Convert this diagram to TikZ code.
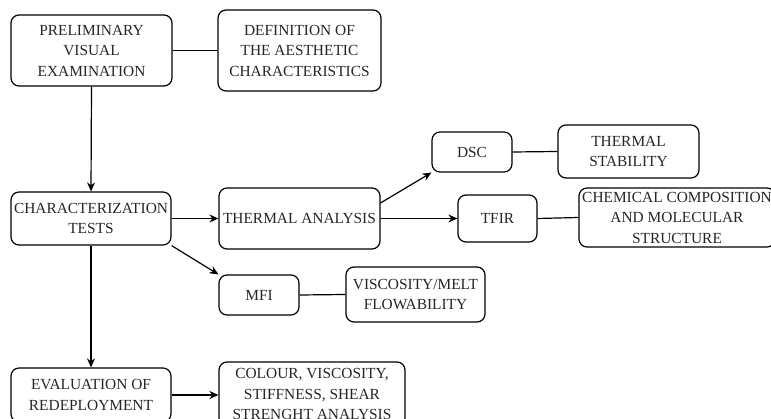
\documentclass[tikz,border=0pt]{standalone}
\usepackage{fontspec}
\setmainfont{Liberation Serif}
\usetikzlibrary{arrows.meta,calc}

\tikzset{
  box/.style={draw, line width=1.2pt, rounded corners=8pt, inner sep=0pt,
    align=center, text=black!85, font=\fontsize{15.4}{20.5}\selectfont},
  link/.style={line width=1.2pt},
  arr/.style={line width=1.2pt, -{Stealth[length=9pt,width=8pt]}}
}

\begin{document}
\begin{tikzpicture}[x=1pt,y=-1pt]
  \useasboundingbox (0,0) rectangle (771,419);
  \clip (0,0) rectangle (771,419);

  % left column
  \node[box, minimum width=161pt, minimum height=71pt] (pve) at (91.5,50.5)
    {PRELIMINARY\\VISUAL\\EXAMINATION};
  \node[box, minimum width=163pt, minimum height=81pt] (def) at (299.5,50.5)
    {DEFINITION OF\\THE AESTHETIC\\CHARACTERISTICS};
  \node[box, minimum width=160pt, minimum height=53pt] (ct) at (91,218.5)
    {CHARACTERIZATION\\TESTS};
  \node[box, minimum width=160pt, minimum height=54pt] (ev) at (91,395)
    {EVALUATION OF\\REDEPLOYMENT};

  % analyses
  \node[box, minimum width=161pt, minimum height=61pt] (ta) at (299.5,218.5)
    {THERMAL ANALYSIS};
  \node[box, minimum width=80pt, minimum height=40pt] (dsc) at (472,152) {DSC};
  \node[box, minimum width=141pt, minimum height=53pt] (ts) at (628.5,151.5)
    {THERMAL\\STABILITY};
  \node[box, minimum width=79pt, minimum height=47pt] (tfir) at (497.5,218.5) {TFIR};
  \node[box, minimum width=196pt, minimum height=59pt] (chem) at (677,217.5)
    {CHEMICAL COMPOSITION\\AND MOLECULAR\\STRUCTURE};
  \node[box, minimum width=80pt, minimum height=40pt] (mfi) at (259,295) {MFI};
  \node[box, minimum width=139pt, minimum height=55pt] (vm) at (415.5,294.5)
    {VISCOSITY/MELT\\FLOWABILITY};
  \node[box, minimum width=186pt, minimum height=64pt] (col) at (312,394)
    {COLOUR, VISCOSITY,\\STIFFNESS, SHEAR\\STRENGHT ANALYSIS};

  % connectors
  \draw[link] (pve.east) -- (def.west);
  \draw[arr] (pve.south) -- (ct.north);
  \draw[arr] (ct.east) -- (ta.west);
  \coordinate (taout) at ($(ta.north east)!0.25!(ta.south east)$);
  \draw[arr] (taout) -- (dsc.south west);
  \draw[arr] (ta.east) -- (tfir.west);
  \draw[link] (dsc.east) -- (ts.west);
  \draw[link] (tfir.east) -- (chem.west);
  \draw[arr] (ct.south east) -- (mfi.north west);
  \draw[link] (mfi.east) -- (vm.west);
  \draw[arr] (ct.south) -- (ev.north);
  \draw[arr] (ev.east) -- ($(col.west)+(0,1)$);
\end{tikzpicture}
\end{document}
